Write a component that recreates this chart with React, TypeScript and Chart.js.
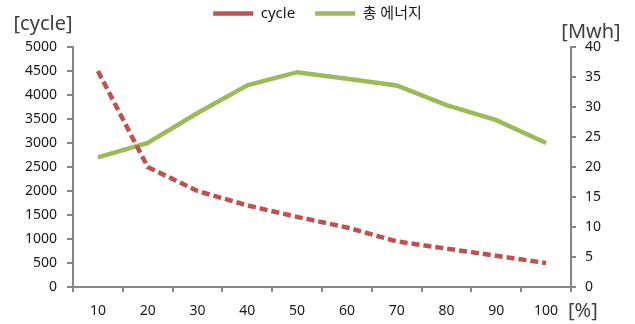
import React, { useEffect, useRef } from "react";
import { Chart, registerables } from "chart.js";

Chart.register(...registerables);

const categories = ["10", "20", "30", "40", "50", "60", "70", "80", "90", "100"];
const cycleValues = [4500, 2500, 2000, 1700, 1460, 1240, 950, 800, 650, 500];
const energyValues = [21.6, 24, 29, 33.6, 35.8, 34.7, 33.6, 30.3, 27.8, 24];
const leftTitle = "[cycle]";
const rightTitle = "[Mwh]";
const xTitle = "[%]";

const FONT = "'Noto Sans', 'Noto Sans CJK KR', sans-serif";
const AXIS_GRAY = "#868686";
const TEXT = "#1a1a1a";

const titlePlugin = {
  id: "axisTitles",
  afterDraw(chart: any) {
    const { ctx, chartArea } = chart;
    ctx.save();
    ctx.fillStyle = "#404040";
    ctx.font = `20px ${FONT}`;
    ctx.textBaseline = "middle";
    ctx.textAlign = "center";
    ctx.fillText(leftTitle, chartArea.left - 30, chartArea.top - 23);
    ctx.fillText(rightTitle, chartArea.right + 20, chartArea.top - 15);
    ctx.textAlign = "left";
    ctx.fillText(xTitle, chartArea.right - 3, chartArea.bottom + 24);
    ctx.restore();
  },
};

const legendFitPlugin = {
  id: "legendFit",
  beforeInit(chart: any) {
    const legend = chart.legend;
    if (!legend) return;
    const orig = legend.fit;
    legend.fit = function () {
      orig.call(this);
      this.height = 61;
    };
  },
};

const plain = (v: any) => String(v);

export default function App() {
  const ref = useRef<HTMLCanvasElement | null>(null);
  useEffect(() => {
    if (!ref.current) return;
    const chart = new Chart(ref.current, {
      type: "line",
      data: {
        labels: categories,
        datasets: [
          {
            label: "cycle",
            data: cycleValues,
            yAxisID: "y",
            borderColor: "#C0504D",
            backgroundColor: "#C0504D",
            borderWidth: 4.5,
            borderDash: [8, 4],
            pointRadius: 0,
            tension: 0,
          },
          {
            label: "총 에너지",
            data: energyValues,
            yAxisID: "y1",
            borderColor: "#9BBB59",
            backgroundColor: "#9BBB59",
            borderWidth: 4.5,
            pointRadius: 0,
            tension: 0,
          },
        ],
      },
      plugins: [legendFitPlugin, titlePlugin],
      options: {
        animation: false,
        responsive: true,
        maintainAspectRatio: false,
        layout: { padding: { top: -14, left: 0, right: 0, bottom: 0 } },
        plugins: {
          legend: {
            display: true,
            position: "top",
            labels: {
              usePointStyle: true,
              pointStyle: "line",
              pointStyleWidth: 40,
              padding: 20,
              color: TEXT,
              font: { family: FONT, size: 15 },
            },
          },
          tooltip: { enabled: false },
        },
        scales: {
          x: {
            type: "category",
            offset: true,
            grid: {
              offset: true,
              drawOnChartArea: false,
              drawTicks: true,
              tickLength: 5,
              color: AXIS_GRAY,
              lineWidth: 2,
            },
            border: { display: true, color: AXIS_GRAY, width: 2 },
            ticks: {
              color: TEXT,
              padding: 11,
              maxRotation: 0,
              font: { family: FONT, size: 14 },
            },
            afterFit(scale: any) {
              scale.height = 37;
            },
          },
          y: {
            type: "linear",
            position: "left",
            min: 0,
            max: 5000,
            grid: {
              drawOnChartArea: false,
              drawTicks: true,
              tickLength: 6,
              color: AXIS_GRAY,
              lineWidth: 2,
            },
            border: { display: true, color: AXIS_GRAY, width: 2 },
            ticks: {
              stepSize: 500,
              color: TEXT,
              padding: 10,
              callback: plain,
              font: { family: FONT, size: 14 },
            },
            afterFit(scale: any) {
              scale.width = 73;
            },
          },
          y1: {
            type: "linear",
            position: "right",
            min: 0,
            max: 40,
            grid: {
              drawOnChartArea: false,
              drawTicks: true,
              tickLength: 5,
              color: AXIS_GRAY,
              lineWidth: 2,
            },
            border: { display: true, color: AXIS_GRAY, width: 2 },
            ticks: {
              stepSize: 5,
              color: TEXT,
              padding: 9,
              callback: plain,
              font: { family: FONT, size: 14 },
            },
            afterFit(scale: any) {
              scale.width = 64;
            },
          },
        },
      },
    });
    return () => chart.destroy();
  }, []);
  return (
    <div style={{ position: "fixed", left: 0, top: 0, width: 635, height: 324, background: "#fff" }}>
      <canvas ref={ref} />
    </div>
  );
}
